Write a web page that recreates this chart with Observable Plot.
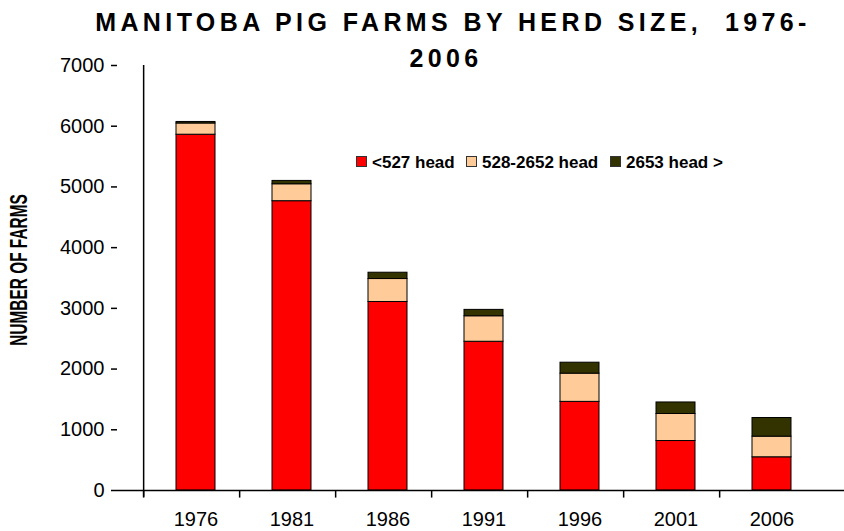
<!DOCTYPE html>
<html>
<head>
<meta charset="utf-8">
<script src="https://cdn.jsdelivr.net/npm/d3@7"></script>
<script src="https://cdn.jsdelivr.net/npm/@observablehq/plot@0.6"></script>
<style>
  html, body { margin: 0; padding: 0; background: #fff; overflow: hidden; }
  #wrap { position: relative; width: 844px; height: 531px; font-family: "Liberation Sans", Arial, sans-serif; }
  .tline { position: absolute; left: 0; text-align: center; font-weight: bold; font-size: 25px; letter-spacing: 4.4px; line-height: 36px; color: #000; white-space: pre; }
  .leg { position: absolute; top: 153px; font-weight: bold; font-size: 17px; color: #000; white-space: nowrap; }
  .sw { display: inline-block; width: 9px; height: 9px; border: 1px solid #333; margin-right: 5px; vertical-align: 1px; }
  #ylab { position: absolute; left: 19px; top: 270px; transform: translate(-50%, -50%) rotate(-90deg) scaleX(0.67); font-weight: bold; font-size: 23px; white-space: nowrap; color: #000; }
</style>
</head>
<body>
<div id="wrap"></div>
<script>
const years = ["1976", "1981", "1986", "1991", "1996", "2001", "2006"];
const seriesNames = ["<527 head", "528-2652 head", "2653 head >"];
const smallFarms = [5860, 4765, 3105, 2450, 1460, 815, 547];
const mediumFarms = [185, 279, 378, 420, 465, 445, 340];
const largeFarms = [25, 55, 104, 105, 180, 190, 307];
const seriesColors = ["#FF0000", "#FFCC99", "#333300"];
const yTicks = [0, 1000, 2000, 3000, 4000, 5000, 6000, 7000];
const titleLines = ["MANITOBA PIG FARMS BY HERD SIZE,  1976-", "2006"];
const yLabel = "NUMBER OF FARMS";

const rows = years.flatMap((yr, i) => [
  {year: yr, size: seriesNames[0], farms: smallFarms[i]},
  {year: yr, size: seriesNames[1], farms: mediumFarms[i]},
  {year: yr, size: seriesNames[2], farms: largeFarms[i]}
]);

const W = 844, H = 531, left = 117, right = 850;
const step = (right - left) / years.length;

const chart = Plot.plot({
  width: W,
  height: H,
  marginTop: 65,
  marginBottom: 41,
  marginLeft: left,
  marginRight: 0,
  style: {fontFamily: "'Liberation Sans', Arial, sans-serif", fontSize: "20px", color: "#000", background: "#fff"},
  x: {domain: years, range: [left, right], padding: 0.59, label: null},
  y: {domain: [0, 7000], label: null},
  color: {domain: seriesNames, range: seriesColors},
  marks: [
    Plot.barY(rows, {x: "year", y: "farms", fill: "size", stroke: "#000", strokeWidth: 1}),
    Plot.ruleY([0], {stroke: "#000", strokeWidth: 1.5}),
    Plot.ruleX([years[0]], {x: d => d, dx: -step / 2, y1: -110, y2: 7000, stroke: "#000", strokeWidth: 1.5}),
    Plot.ruleX(years, {x: d => d, dx: -step / 2, y1: 0, y2: -125, stroke: "#000", strokeWidth: 1.5}),
    Plot.axisY({ticks: yTicks, tickFormat: d3.format("d"), tickSize: 6, tickPadding: 7, fontSize: 20, stroke: "#000", strokeWidth: 1.5}),
    Plot.axisX({tickSize: 0, tickPadding: 21, fontSize: 20})
  ]
});

const wrap = document.getElementById("wrap");
wrap.appendChild(chart);

const titleCenters = [453, 446];
const titleTops = [4, 40];
titleLines.forEach((txt, i) => {
  const d = document.createElement("div");
  d.className = "tline";
  d.style.width = (2 * titleCenters[i]) + "px";
  d.style.top = titleTops[i] + "px";
  d.textContent = txt;
  wrap.appendChild(d);
});

const yl = document.createElement("div");
yl.id = "ylab";
yl.textContent = yLabel;
wrap.appendChild(yl);

const legLefts = [356, 466, 610];
seriesNames.forEach((s, i) => {
  const d = document.createElement("div");
  d.className = "leg";
  d.style.left = legLefts[i] + "px";
  const sw = document.createElement("span");
  sw.className = "sw";
  sw.style.background = seriesColors[i];
  d.appendChild(sw);
  d.appendChild(document.createTextNode(s));
  wrap.appendChild(d);
});
</script>
</body>
</html>
